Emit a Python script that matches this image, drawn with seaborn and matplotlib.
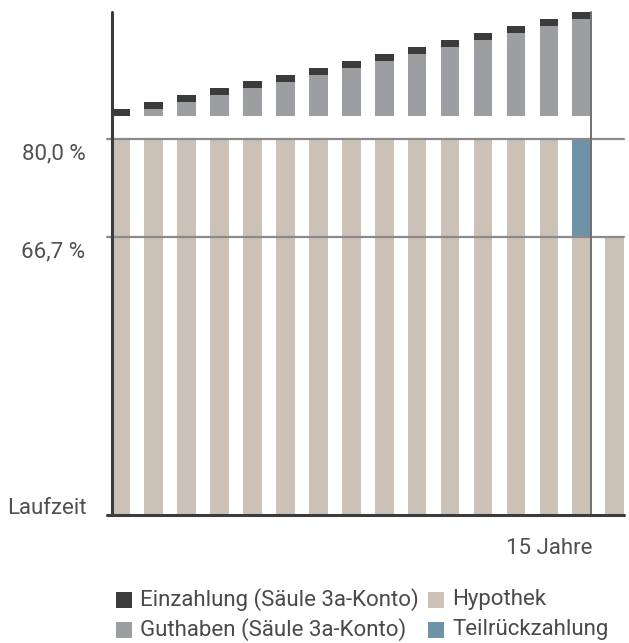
import matplotlib
matplotlib.use("Agg")
import matplotlib.pyplot as plt
from matplotlib.patches import Rectangle
import seaborn as sns
import pandas as pd

# ---------------- data ----------------
years = list(range(1, 17))
hypothek = [80.0] * 14 + [66.7, 66.7]
teil_years = [15]
teil_bottom = [66.7]
teil_height = [13.3]
save_years = list(range(1, 16))
guthaben = [0.0, 0.95, 1.9, 2.85, 3.8, 4.6, 5.55, 6.5, 7.45, 8.4, 9.35, 10.3, 11.25, 12.2, 13.15]
einzahlung = [0.95] * 15
ytick_vals = [80.0, 66.7]
ytick_labels = ["80,0 %", "66,7 %"]
legend_labels = ["Einzahlung (Säule 3a-Konto)", "Hypothek",
                 "Guthaben (Säule 3a-Konto)", "Teilrückzahlung"]

# ---------------- layout / style ----------------
SAVINGS_BASE = 83.1
W, H = 629, 643
C_BEIGE = "#cbc1b7"
C_BLUE = "#6e92a8"
C_GREY = "#9d9ea2"
C_DARK = "#3b3b3b"
C_LINE = "#8a8a8a"
C_AXIS = "#3c3c3c"
C_TEXT = "#505050"
BAR_W = 0.566

sns.set_theme(style="white")
FONT = ["Roboto", "DejaVu Sans"]
plt.rcParams["font.family"] = FONT

fig = plt.figure(figsize=(W / 100, H / 100), dpi=100)
ax_l, ax_r, ax_t, ax_b = 111.5, 624, 12, 515
ax = fig.add_axes([ax_l / W, 1 - ax_b / H, (ax_r - ax_l) / W, (ax_b - ax_t) / H])

df_h = pd.DataFrame({"year": years, "value": hypothek})
df_t = pd.DataFrame({"year": teil_years, "value": teil_height})
df_s = pd.DataFrame({"year": save_years, "g": guthaben, "e": einzahlung})

common = dict(native_scale=True, width=BAR_W, linewidth=0, ax=ax, errorbar=None)
sns.barplot(data=df_h, x="year", y="value", color=C_BEIGE, saturation=1, **common)
sns.barplot(data=df_t, x="year", y="value", color=C_BLUE, saturation=1,
            bottom=teil_bottom, **common)
sns.barplot(data=df_s, x="year", y="g", color=C_GREY, saturation=1,
            bottom=[SAVINGS_BASE] * len(save_years), **common)
sns.barplot(data=df_s, x="year", y="e", color=C_DARK, saturation=1,
            bottom=[SAVINGS_BASE + g for g in guthaben], **common)

x0 = years[0] - BAR_W / 2
x1 = years[-1] + BAR_W / 2
ax.set_xlim(x0, x1)
ax.set_ylim(28.97, 97.24)
for s in ax.spines.values():
    s.set_visible(False)
ax.set_xticks([])
ax.set_yticks([])
ax.set_xlabel("")
ax.set_ylabel("")

ext = -5.0 / (ax_r - ax_l)
for v in ytick_vals:
    ax.axhline(v, xmin=ext, xmax=1, color=C_LINE, lw=1.6, clip_on=False, zorder=5)
ax.axvline(15 + BAR_W / 2, color="#707070", lw=1.4, zorder=5, clip_on=False)
ax.axhline(28.97, xmin=ext, xmax=1, color=C_AXIS, lw=2.2, clip_on=False, zorder=6)
ax.axvline(x0, color=C_AXIS, lw=2.2, clip_on=False, zorder=6)

fs = 16
def px(x, y):
    return x / W, 1 - y / H

for v, lab in zip(ytick_vals, ytick_labels):
    ax.annotate(lab, xy=(x0, v), xycoords="data", xytext=(-26, -15),
                textcoords="offset pixels", ha="right", va="center",
                fontsize=fs, color=C_TEXT)

fig.text(*px(87, 508), "Laufzeit", ha="right", va="center", fontsize=fs, color=C_TEXT)
fig.text(*px(593, 548), "15 Jahre", ha="right", va="center", fontsize=fs, color=C_TEXT)

leg_colors = [C_DARK, C_BEIGE, C_GREY, C_BLUE]
sq_x = [116, 428]
row_y = [600, 630]
for i, (lab, col) in enumerate(zip(legend_labels, leg_colors)):
    r, c = divmod(i, 2)
    sx, cy = sq_x[c], row_y[r]
    fig.patches.append(Rectangle(px(sx, cy + 8), 16 / W, 16 / H, transform=fig.transFigure,
                                 facecolor=col, edgecolor="none"))
    fig.text(*px(sx + 24, cy), lab, ha="left", va="center", fontsize=fs, color="#4a4a4a")

fig.savefig("out.png", dpi=100)
